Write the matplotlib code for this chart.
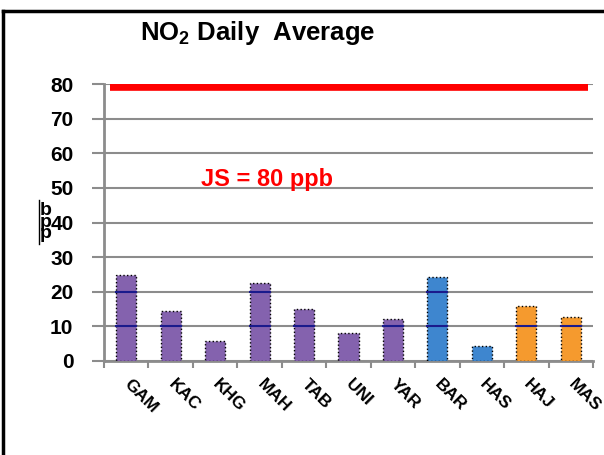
import matplotlib
matplotlib.use('Agg')
import numpy as np
from matplotlib import pyplot as plt
from matplotlib.lines import Line2D

plt.rcParams['font.family'] = ['Liberation Sans', 'DejaVu Sans']

# データ
stations = ['GAM', 'KAC', 'KHG', 'MAH', 'TAB', 'UNI', 'YAR', 'BAR', 'HAS', 'HAJ', 'MAS']
no2 = [24.8, 14.5, 5.8, 22.5, 15.0, 8.0, 12.0, 24.3, 4.3, 16.0, 12.7]
groups = ['a', 'a', 'a', 'a', 'a', 'a', 'a', 'b', 'b', 'c', 'c']
limit = 79
y_ticks = [0, 10, 20, 30, 40, 50, 60, 70, 80]

colors = {'a': '#8462AE', 'b': '#3E86CF', 'c': '#F59A2E'}

fig = plt.figure(figsize=(6.04, 4.55), dpi=100)
ax = fig.add_axes([104/604, 1-361/455, (593-104)/604, (361-84)/455])

x = np.arange(len(stations))
ax.bar(x, no2, width=0.45, color=[colors[g] for g in groups],
       edgecolor='black', linestyle=':', linewidth=1.0, zorder=3)

# バー内の線
for xi, v in zip(x, no2):
    for g in (10, 20):
        if v > g:
            ax.plot([xi-0.225, xi+0.225], [g, g], color='#1a1a8c', lw=1.5, zorder=4)

# 基準線
ax.hlines(limit, -0.37, 10.39, color='#ff0000', lw=5.5, zorder=5)
ax.text(3.17, 52.3, 'JS = 80 ppb', color='#ff0000', fontsize=17, fontweight='bold',
        ha='center', va='center', zorder=6)

ax.set_xlim(-0.5, len(stations)-0.5)
ax.set_ylim(0, 80)
ax.set_yticks(y_ticks)
ax.set_yticklabels([str(t) for t in y_ticks], fontsize=15, fontweight='bold')
ax.yaxis.grid(True, color='#8c8c8c', lw=1.5, zorder=0)
ax.set_axisbelow(True)

ax.set_xticks(x)
ax.set_xticklabels(stations, rotation=-45, ha='left', va='center',
                   rotation_mode='anchor', fontsize=12.5, fontweight='bold')
ax.tick_params(axis='x', length=0, pad=15)
ax.set_xticks(np.arange(-0.5, len(stations), 1), minor=True)
ax.tick_params(axis='x', which='minor', length=5, color='#8c8c8c', width=1.5)
ax.tick_params(axis='y', length=9, color='#8c8c8c', width=1.5, pad=13)

for s in ('top', 'right'):
    ax.spines[s].set_visible(False)
for s in ('left', 'bottom'):
    ax.spines[s].set_color('#8c8c8c')
    ax.spines[s].set_linewidth(2)

# タイトル
fig.text(140/604, 1-33/455, 'NO$_\\mathregular{2}$ Daily  Average', fontsize=18.5,
         fontweight='bold', ha='left', va='center')

# 単位
fig.text(46/604, 1-222/455, 'b\np\np', fontsize=14, fontweight='bold',
         ha='center', va='center', linespacing=0.6)
fig.add_artist(Line2D([39/604, 39/604], [1-200/455, 1-244/455], color='black', lw=1))

# 枠
fig.add_artist(Line2D([3/604, 1], [1-11/455, 1-11/455], color='black', lw=2.5))
fig.add_artist(Line2D([3/604, 3/604], [1-11/455, 0], color='black', lw=2.5))

fig.savefig('out.png', dpi=100)
